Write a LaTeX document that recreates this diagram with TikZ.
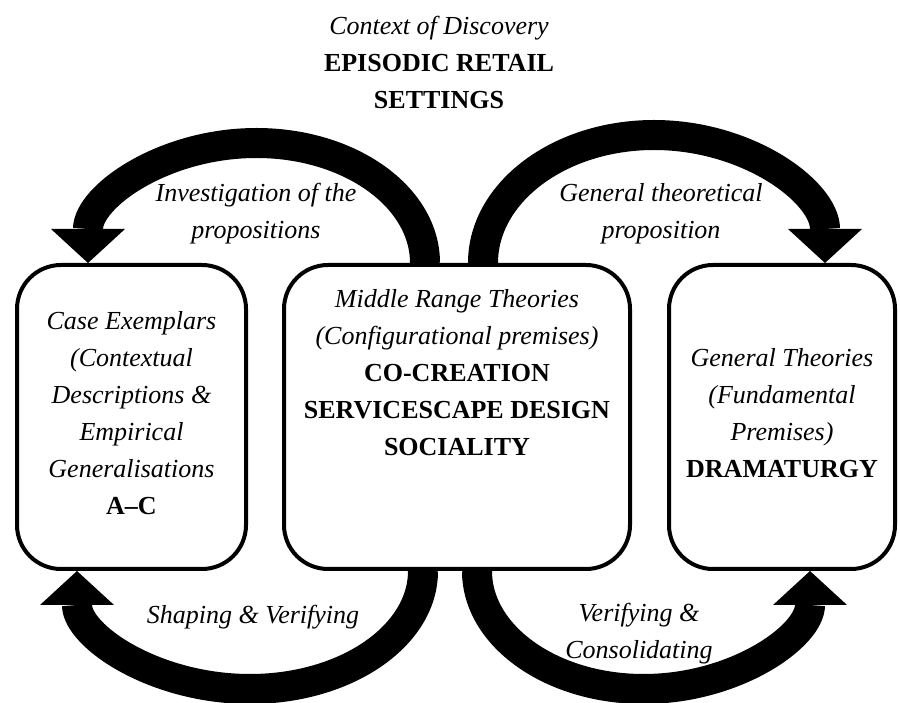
\documentclass[tikz,border=0pt]{standalone}
\usepackage{fontspec}
\setmainfont{Liberation Serif}
\usetikzlibrary{arrows.meta,calc,positioning}
\tikzset{
	txt/.style={align=center, font=\fontsize{13}{18.5}\selectfont},
	note/.style={txt, font=\fontsize{13}{18.5}\selectfont\itshape},
	box/.style={txt, draw, line width=2pt, rounded corners=22pt, inner sep=0pt, minimum height=152pt},
	bigarrow/.style={line width=15pt, -{Triangle[length=17pt,width=37pt,line width=0pt]}},
}

\begin{document}
\begin{tikzpicture}[x=0.5pt,y=0.5pt]
			%%%%% START %%%%%
			\useasboundingbox (0,0) rectangle (900,702);
			
			\node[txt] (context) at (439,640) {\textit{Context of Discovery}\\\textbf{EPISODIC RETAIL}\\\textbf{SETTINGS}};
			
			\node[box, minimum width=114.5pt, text depth=4pt] (cases) at (131.5,285) {\textit{Case Exemplars}\\\textit{(Contextual}\\\textit{Descriptions \&}\\\textit{Empirical}\\\textit{Generalisations}\\\textbf{A–C}};
			\node[box, minimum width=173pt, text depth=45pt] (middle) at (457,285) {\textit{Middle Range Theories}\\\textit{(Configurational premises)}\\\textbf{CO-CREATION}\\\textbf{SERVICESCAPE DESIGN}\\\textbf{SOCIALITY}};
			\node[box, minimum width=113pt, text depth=4pt] (theory) at (782,285) {\textit{General Theories}\\\textit{(Fundamental}\\\textit{Premises)}\\\textbf{DRAMATURGY}};
			
			% half ellipses from the middle box to the outer boxes
			\draw[bigarrow] ($(middle.north)+(-32,0)$) arc[start angle=0, end angle=180, x radius=168.5, y radius=120];
			\draw[bigarrow] ($(middle.north)+(26,0)$) arc[start angle=180, end angle=0, x radius=171, y radius=128];
			\draw[bigarrow] ($(middle.south)+(-34,0)$) arc[start angle=0, end angle=-180, x radius=173, y radius=118];
			\draw[bigarrow] ($(middle.south)+(20,0)$) arc[start angle=180, end angle=360, x radius=166.5, y radius=118];
			
			\node[note] (investigation) at (256,488) {Investigation of the\\propositions};
			\node[note] (proposition) at (661,488) {General theoretical\\proposition};
			\node[note] (shaping) at (253,85) {Shaping \& Verifying};
			\node[note] (consolidating) at (639,68) {Verifying \&\\Consolidating};
			
			%%%%% END %%%%%
\end{tikzpicture}
\end{document}
